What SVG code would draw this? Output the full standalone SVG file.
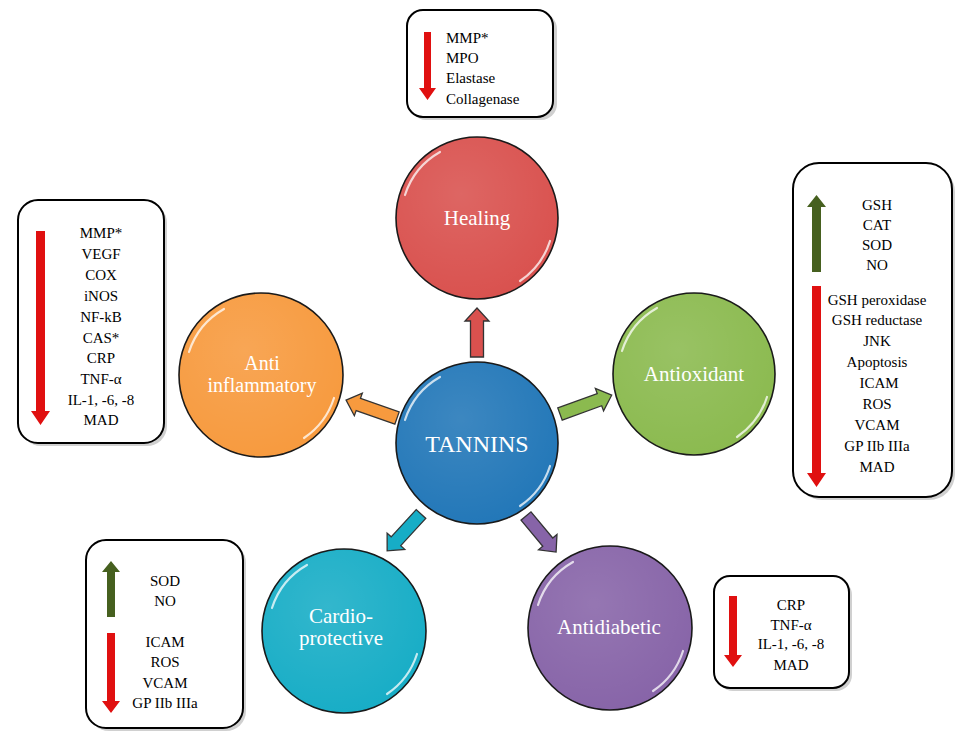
<svg xmlns="http://www.w3.org/2000/svg" width="955" height="742" viewBox="0 0 955 742">
<style>
.box{fill:#fff;stroke:#000;stroke-width:2}
.shadow{fill:#b0b0b0;opacity:0.6}
.circ{stroke:#1a1a1a;stroke-width:1.6}
.gloss{fill:none;stroke:#fff;stroke-width:2.2;stroke-linecap:round;opacity:0.75}
.conn{stroke:#333;stroke-width:1.3;stroke-linejoin:miter}
.red{fill:#e01010}
.green{fill:#46601f}
</style>
<defs>
<radialGradient id="gl" cx="0.4" cy="0.35" r="0.7">
<stop offset="0" stop-color="#fff" stop-opacity="0.12"/>
<stop offset="1" stop-color="#fff" stop-opacity="0"/>
</radialGradient>
</defs>

<g id="connectors">
<path class="conn" fill="#d9514e" d="M0,-6.5 L36,-6.5 L36,-12 L49,0 L36,12 L36,6.5 L0,6.5 Z" transform="translate(477,357) rotate(-90)"/>
<path class="conn" fill="#8bba4f" d="M0,-6.5 L42,-6.5 L42,-12 L55,0 L42,12 L42,6.5 L0,6.5 Z" transform="translate(560,414) rotate(-20)"/>
<path class="conn" fill="#f79a3e" d="M0,-6.5 L41,-6.5 L41,-12 L54,0 L41,12 L41,6.5 L0,6.5 Z" transform="translate(397,418) rotate(199.4)"/>
<path class="conn" fill="#17adc6" d="M0,-6.5 L37,-6.5 L37,-12 L50,0 L37,12 L37,6.5 L0,6.5 Z" transform="translate(421,514) rotate(132.6)"/>
<path class="conn" fill="#8764a8" d="M0,-6.5 L34,-6.5 L34,-12 L47,0 L34,12 L34,6.5 L0,6.5 Z" transform="translate(526,516) rotate(50.2)"/>
</g>

<g id="tannins">
<circle class="circ" cx="477" cy="443" r="81" fill="#2277b8"/>
<circle cx="477" cy="443" r="80" fill="url(#gl)"/>
<path class="gloss" d="M405,420 A76,76 0 0 1 440,377"/>
<path class="gloss" d="M550,466 A76,76 0 0 1 520,506"/>
<text font-family="Liberation Serif" font-size="24" fill="#fff" text-anchor="middle" x="477" y="452">TANNINS</text>
</g>

<g id="healing">
<circle class="circ" cx="477" cy="218" r="81" fill="#d9514e"/>
<circle cx="477" cy="218" r="80" fill="url(#gl)"/>
<path class="gloss" d="M405,195 A76,76 0 0 1 440,152"/>
<path class="gloss" d="M550,241 A76,76 0 0 1 520,281"/>
<text font-family="Liberation Serif" font-size="21" fill="#fff" text-anchor="middle" x="477" y="225">Healing</text>
</g>

<g id="antioxidant">
<circle class="circ" cx="694" cy="374" r="81" fill="#8bba4f"/>
<circle cx="694" cy="374" r="80" fill="url(#gl)"/>
<path class="gloss" d="M622,351 A76,76 0 0 1 657,308"/>
<path class="gloss" d="M767,397 A76,76 0 0 1 737,437"/>
<text font-family="Liberation Serif" font-size="21" fill="#fff" text-anchor="middle" x="694" y="381">Antioxidant</text>
</g>

<g id="antiinflammatory">
<circle class="circ" cx="261" cy="375" r="82" fill="#f79a3e"/>
<circle cx="261" cy="375" r="81" fill="url(#gl)"/>
<path class="gloss" d="M189,352 A76,76 0 0 1 224,309"/>
<path class="gloss" d="M334,398 A76,76 0 0 1 304,438"/>
<text font-family="Liberation Serif" font-size="20" fill="#fff" text-anchor="middle" x="262" y="370">Anti</text>
<text font-family="Liberation Serif" font-size="20" fill="#fff" text-anchor="middle" x="262" y="392">inflammatory</text>
</g>

<g id="cardioprotective">
<circle class="circ" cx="344" cy="631" r="82" fill="#17adc6"/>
<circle cx="344" cy="631" r="81" fill="url(#gl)"/>
<path class="gloss" d="M272,608 A76,76 0 0 1 307,565"/>
<path class="gloss" d="M417,654 A76,76 0 0 1 387,694"/>
<text font-family="Liberation Serif" font-size="21" fill="#fff" text-anchor="middle" x="341" y="623">Cardio-</text>
<text font-family="Liberation Serif" font-size="21" fill="#fff" text-anchor="middle" x="341" y="645">protective</text>
</g>

<g id="antidiabetic">
<circle class="circ" cx="610" cy="628" r="82" fill="#8764a8"/>
<circle cx="610" cy="628" r="81" fill="url(#gl)"/>
<path class="gloss" d="M538,605 A76,76 0 0 1 573,562"/>
<path class="gloss" d="M683,651 A76,76 0 0 1 653,691"/>
<text font-family="Liberation Serif" font-size="21" fill="#fff" text-anchor="middle" x="609" y="634">Antidiabetic</text>
</g>

<g id="box-healing">
<rect class="shadow" x="410" y="13" width="147" height="107" rx="16"/>
<rect class="box" x="407" y="10" width="146" height="107" rx="16"/>
<path class="red" d="M424,32 L431,32 L431,88 L436,88 L427.5,100 L419,88 L424,88 Z"/>
<text font-family="Liberation Serif" font-size="15" x="446" y="43">MMP*</text>
<text font-family="Liberation Serif" font-size="15" x="446" y="63">MPO</text>
<text font-family="Liberation Serif" font-size="15" x="446" y="83">Elastase</text>
<text font-family="Liberation Serif" font-size="15" x="446" y="104">Collagenase</text>
</g>

<g id="box-antioxidant">
<rect class="shadow" x="796" y="166" width="159" height="334" rx="26"/>
<rect class="box" x="793" y="163" width="159" height="334" rx="26"/>
<path class="green" d="M812,272 L821,272 L821,207 L826,207 L816.5,195 L807,207 L812,207 Z"/>
<path class="red" d="M812,286 L821,286 L821,473 L826,473 L816.5,487 L807,473 L812,473 Z"/>
<text font-family="Liberation Serif" font-size="15" text-anchor="middle" x="877" y="210">GSH</text>
<text font-family="Liberation Serif" font-size="15" text-anchor="middle" x="877" y="230">CAT</text>
<text font-family="Liberation Serif" font-size="15" text-anchor="middle" x="877" y="250">SOD</text>
<text font-family="Liberation Serif" font-size="15" text-anchor="middle" x="877" y="270">NO</text>
<text font-family="Liberation Serif" font-size="15" text-anchor="middle" x="877" y="305">GSH peroxidase</text>
<text font-family="Liberation Serif" font-size="15" text-anchor="middle" x="877" y="325">GSH reductase</text>
<text font-family="Liberation Serif" font-size="15" text-anchor="middle" x="877" y="346">JNK</text>
<text font-family="Liberation Serif" font-size="15" text-anchor="middle" x="877" y="367">Apoptosis</text>
<text font-family="Liberation Serif" font-size="15" text-anchor="middle" x="879" y="388">ICAM</text>
<text font-family="Liberation Serif" font-size="15" text-anchor="middle" x="877" y="409">ROS</text>
<text font-family="Liberation Serif" font-size="15" text-anchor="middle" x="877" y="430">VCAM</text>
<text font-family="Liberation Serif" font-size="15" text-anchor="middle" x="877" y="451">GP IIb IIIa</text>
<text font-family="Liberation Serif" font-size="15" text-anchor="middle" x="877" y="472">MAD</text>
</g>

<g id="box-antiinflammatory">
<rect class="shadow" x="21" y="203" width="146" height="243" rx="20"/>
<rect class="box" x="18" y="200" width="146" height="243" rx="20"/>
<path class="red" d="M36,231 L45,231 L45,411 L50,411 L40.5,425 L31,411 L36,411 Z"/>
<text font-family="Liberation Serif" font-size="15" text-anchor="middle" x="101" y="238">MMP*</text>
<text font-family="Liberation Serif" font-size="15" text-anchor="middle" x="101" y="259">VEGF</text>
<text font-family="Liberation Serif" font-size="15" text-anchor="middle" x="101" y="280">COX</text>
<text font-family="Liberation Serif" font-size="15" text-anchor="middle" x="101" y="301">iNOS</text>
<text font-family="Liberation Serif" font-size="15" text-anchor="middle" x="101" y="322">NF-kB</text>
<text font-family="Liberation Serif" font-size="15" text-anchor="middle" x="101" y="343">CAS*</text>
<text font-family="Liberation Serif" font-size="15" text-anchor="middle" x="101" y="363">CRP</text>
<text font-family="Liberation Serif" font-size="15" text-anchor="middle" x="101" y="384">TNF-α</text>
<text font-family="Liberation Serif" font-size="15" text-anchor="middle" x="101" y="405">IL-1, -6, -8</text>
<text font-family="Liberation Serif" font-size="15" text-anchor="middle" x="101" y="425">MAD</text>
</g>

<g id="box-cardio">
<rect class="shadow" x="89" y="543" width="157" height="188" rx="20"/>
<rect class="box" x="86" y="540" width="157" height="188" rx="20"/>
<path class="green" d="M107,617 L115,617 L115,572 L120,572 L111,561 L102,572 L107,572 Z"/>
<path class="red" d="M107,633 L115,633 L115,701 L120,701 L111,713 L102,701 L107,701 Z"/>
<text font-family="Liberation Serif" font-size="15" text-anchor="middle" x="165" y="586">SOD</text>
<text font-family="Liberation Serif" font-size="15" text-anchor="middle" x="165" y="606">NO</text>
<text font-family="Liberation Serif" font-size="15" text-anchor="middle" x="165" y="647">ICAM</text>
<text font-family="Liberation Serif" font-size="15" text-anchor="middle" x="165" y="667">ROS</text>
<text font-family="Liberation Serif" font-size="15" text-anchor="middle" x="165" y="688">VCAM</text>
<text font-family="Liberation Serif" font-size="15" text-anchor="middle" x="165" y="708">GP IIb IIIa</text>
</g>

<g id="box-antidiabetic">
<rect class="shadow" x="717" y="579" width="135" height="112" rx="16"/>
<rect class="box" x="714" y="576" width="135" height="112" rx="16"/>
<path class="red" d="M729,596 L737,596 L737,655 L742,655 L733,667 L724,655 L729,655 Z"/>
<text font-family="Liberation Serif" font-size="15" text-anchor="middle" x="791" y="610">CRP</text>
<text font-family="Liberation Serif" font-size="15" text-anchor="middle" x="791" y="630">TNF-α</text>
<text font-family="Liberation Serif" font-size="15" text-anchor="middle" x="791" y="649">IL-1, -6, -8</text>
<text font-family="Liberation Serif" font-size="15" text-anchor="middle" x="791" y="670">MAD</text>
</g>
</svg>
